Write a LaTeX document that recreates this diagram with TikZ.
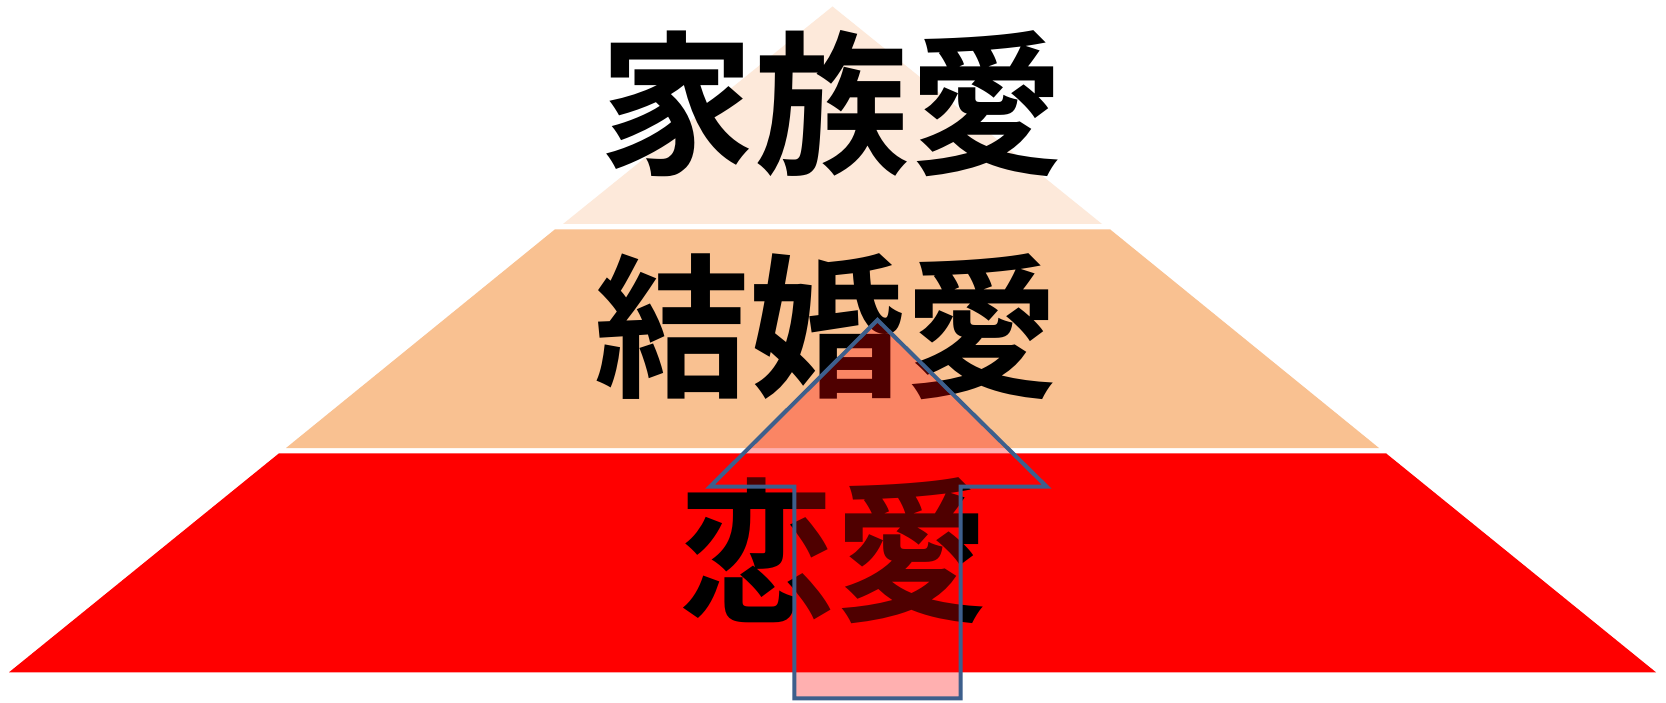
\documentclass[tikz,border=0pt]{standalone}
\usepackage{fontspec}
\newfontfamily\jpfont{Noto Sans CJK JP}[BoldFont={* Bold}]
\definecolor{toppeach}{HTML}{FDE9DA}
\definecolor{midpeach}{HTML}{F9C191}
\definecolor{arrowline}{HTML}{3D5F8C}
\tikzset{
  layertext/.style={inner sep=0pt, font=\jpfont\bfseries\fontsize{155}{155}\selectfont, text=black},
  uparrow/.style={draw=arrowline, line width=4pt, fill=red, fill opacity=0.31, line join=miter}
}
\begin{document}
\begin{tikzpicture}[x=1pt,y=-1pt]
\useasboundingbox (0,0) rectangle (1666,703);
\fill[white] (0,0) rectangle (1666,703);
% layers
\fill[toppeach] (832.5,6.5) -- (1102,224) -- (563,224) -- cycle;
\fill[midpeach] (555,229.3) -- (1110,229.3) -- (1379,448) -- (286,448) -- cycle;
\fill[red] (279,453.3) -- (1386,453.3) -- (1656,672.3) -- (9,672.3) -- cycle;
% texts
\node[layertext] (t1) at (832,104) {家族愛};
\node[layertext] (t2) at (827,327) {結婚愛};
\node[layertext] (t3) at (834.5,551) {恋愛};
% arrow
\draw[uparrow] (877.5,320) -- (1046.7,486.7) -- (960.7,486.7) -- (960.7,698.3)
  -- (794.3,698.3) -- (794.3,486.7) -- (710,486.7) -- cycle;
\end{tikzpicture}
\end{document}
